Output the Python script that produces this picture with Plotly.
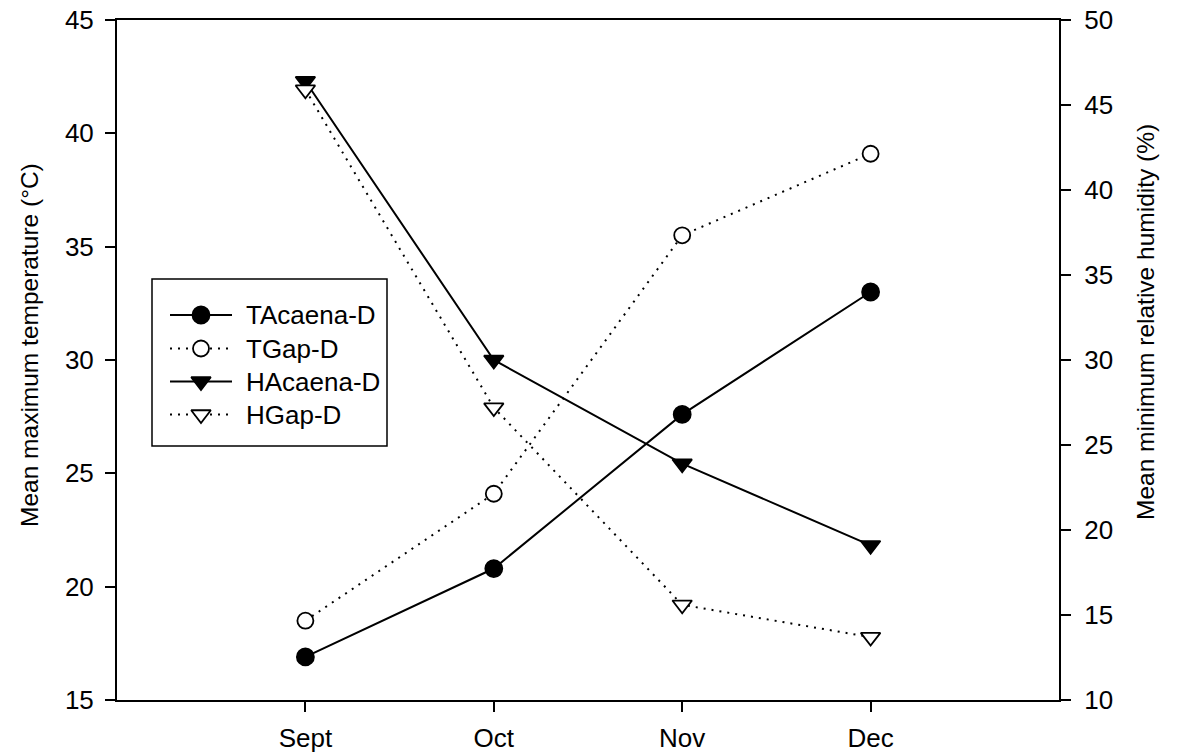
import plotly.graph_objects as go

# Monthly means for the two sites
months = ["Sept", "Oct", "Nov", "Dec"]
t_acaena = [16.9, 20.8, 27.6, 33.0]   # mean max temperature, °C
t_gap = [18.5, 24.1, 35.5, 39.1]
h_acaena = [46.4, 30.0, 23.9, 19.1]   # mean min relative humidity, %
h_gap = [45.9, 27.2, 15.6, 13.7]
series_names = ["TAcaena-D", "TGap-D", "HAcaena-D", "HGap-D"]

FONT = "Arial, Liberation Sans, sans-serif"
DOT = "2px,6px"

# plot area in pixels (used to place the key and the axis titles)
W, H = 1178, 753
ML, MR, MT, MB = 117, 119, 20, 53
PW, PH = W - ML - MR, H - MT - MB


def px_x(px):
    return (px - ML) / PW


def px_y(px):
    return (H - MB - px) / PH


styles = [
    dict(dash="solid", symbol="circle", fill="black", size=17),
    dict(dash=DOT, symbol="circle", fill="white", size=16),
    dict(dash="solid", symbol="triangle-down", fill="black", size=17),
    dict(dash=DOT, symbol="triangle-down", fill="white", size=17),
]
values = [t_acaena, t_gap, h_acaena, h_gap]
axes = ["y", "y", "y2", "y2"]

fig = go.Figure()

for name, vals, ax, st in zip(series_names, values, axes, styles):
    fig.add_trace(go.Scatter(
        x=months, y=vals, name=name, mode="lines+markers", yaxis=ax,
        showlegend=False,
        line=dict(color="black", width=2, dash=st["dash"]),
        marker=dict(symbol=st["symbol"], size=st["size"], color=st["fill"],
                    line=dict(color="black", width=1.8)),
    ))

# key drawn on its own small subplot (units = pixels inside the box)
KEY_L, KEY_R, KEY_T, KEY_B = 152, 387, 279, 446
key_rows = [36, 69.5, 102.5, 135.5]
for name, st, row in zip(series_names, styles, key_rows):
    fig.add_trace(go.Scatter(
        x=[18, 80], y=[row, row], mode="lines", xaxis="x3", yaxis="y3",
        showlegend=False, hoverinfo="skip",
        line=dict(color="black", width=2, dash=st["dash"]),
    ))
    fig.add_trace(go.Scatter(
        x=[49], y=[row], mode="markers", xaxis="x3", yaxis="y3",
        showlegend=False, hoverinfo="skip",
        marker=dict(symbol=st["symbol"], size=st["size"], color=st["fill"],
                    line=dict(color="black", width=1.8)),
    ))
    fig.add_annotation(
        x=92, y=row, xref="x3", yref="y3", text=name, showarrow=False,
        xanchor="left", yanchor="middle",
        font=dict(family=FONT, size=26, color="black"),
    )

fig.add_shape(
    type="rect", xref="x3 domain", yref="y3 domain", x0=0, x1=1, y0=0, y1=1,
    line=dict(color="black", width=1.5), fillcolor="rgba(0,0,0,0)",
)

axis_common = dict(
    showline=True, linecolor="black", linewidth=2,
    ticks="outside", ticklen=10, tickwidth=2, tickcolor="black",
    showgrid=False, zeroline=False, automargin=False,
    tickfont=dict(family=FONT, size=26, color="black"),
)

fig.update_layout(
    width=W, height=H,
    margin=dict(l=ML, r=MR, t=MT, b=MB),
    paper_bgcolor="white", plot_bgcolor="white",
    font=dict(family=FONT, size=24, color="black"),
    showlegend=False,
    xaxis=dict(
        **axis_common, type="category", range=[-1, 4], mirror=True,
        ticklabelstandoff=4,
    ),
    yaxis=dict(
        **axis_common, range=[15, 45], dtick=5, tick0=15,
        ticklabelstandoff=6,
    ),
    yaxis2=dict(
        **axis_common, range=[10, 50], dtick=5, tick0=10,
        overlaying="y", side="right", ticklabelstandoff=8,
    ),
    xaxis3=dict(
        domain=[px_x(KEY_L), px_x(KEY_R)], range=[0, KEY_R - KEY_L],
        visible=False, anchor="y3", fixedrange=True,
    ),
    yaxis3=dict(
        domain=[px_y(KEY_B), px_y(KEY_T)], range=[KEY_B - KEY_T, 0],
        visible=False, anchor="x3", fixedrange=True,
    ),
)

# axis titles
fig.add_annotation(
    x=px_x(29), y=px_y(345), xref="paper", yref="paper",
    text="Mean maximum temperature (°C)", textangle=-90, showarrow=False,
    xanchor="center", yanchor="middle",
    font=dict(family=FONT, size=24.5, color="black"),
)
fig.add_annotation(
    x=px_x(1145), y=px_y(322), xref="paper", yref="paper",
    text="Mean minimum relative humidity (%)", textangle=-90, showarrow=False,
    xanchor="center", yanchor="middle",
    font=dict(family=FONT, size=24.5, color="black"),
)

fig.write_html("out.html")
